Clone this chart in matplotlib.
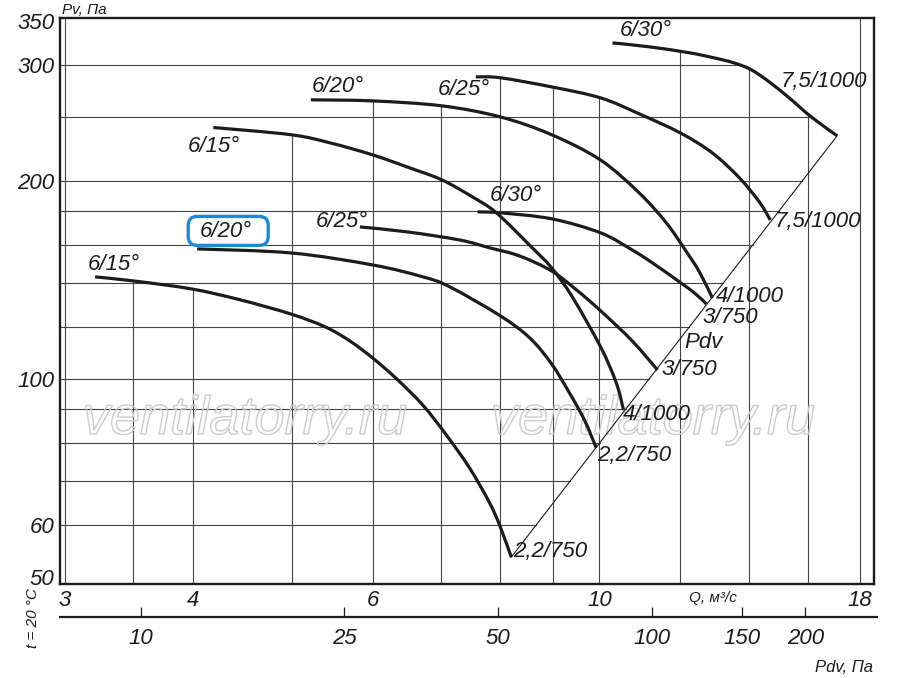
import numpy as np
import matplotlib
matplotlib.use("Agg")
import matplotlib.pyplot as plt
import matplotlib.patheffects as pe
from matplotlib.patches import FancyBboxPatch, PathPatch
from matplotlib.path import Path
from matplotlib.transforms import IdentityTransform
from matplotlib.ticker import FixedLocator, NullLocator

plt.rcParams['font.family'] = ['Liberation Sans', 'DejaVu Sans']
plt.rcParams['font.style'] = 'italic'

# fan curves: Q in m3/s, Pv in Pa
# lower family (2,2/750 ... 3/750)
q_15a = [3.21, 3.50, 3.99, 4.45, 4.99, 5.39, 5.70, 6.00, 6.33, 6.72, 7.10, 7.47, 7.81, 8.00, 8.20]
pv_15a = [142.9, 140.9, 137.0, 131.9, 125.5, 120.0, 114.2, 107.6, 100.1, 91.2, 81.8, 73.1, 64.8, 59.6, 53.6]

q_20a = [4.04, 4.99, 6.00, 6.72, 7.14, 8.00, 8.55, 8.98, 9.35, 9.67, 9.93]
pv_20a = [157.6, 155.4, 149.0, 142.9, 138.0, 124.7, 115.4, 105.4, 95.2, 86.6, 78.6]

q_25a = [5.83, 6.48, 7.30, 7.81, 8.35, 8.98, 9.50, 10.03, 10.77, 11.40]
pv_25a = [170.2, 167.3, 162.6, 158.2, 153.8, 145.9, 136.5, 126.9, 114.2, 103.2]

q_30a = [7.60, 8.00, 8.98, 10.03, 10.77, 11.27, 11.98, 12.39, 12.73]
pv_30a = [179.4, 178.8, 175.1, 166.7, 157.0, 150.1, 140.4, 135.1, 130.0]

# upper family (4/1000 ... 7,5/1000)
q_15b = [4.19, 4.99, 5.45, 6.00, 6.48, 7.01, 7.51, 7.93, 8.58, 8.98, 9.41, 10.03, 10.39, 10.56]
pv_15b = [241, 235, 228.4, 219, 210, 200.7, 189.1, 178.8, 158.7, 147.5, 133.2, 111.8, 98.6, 89.7]

q_20b = [5.22, 6.00, 7.01, 8.00, 8.98, 10.03, 10.94, 11.63, 12.17, 12.53, 12.90]
pv_20b = [265.5, 264.5, 260.0, 250.1, 235, 215, 191.7, 172.6, 156.0, 145.4, 132.8]

q_25b = [7.57, 8.00, 8.98, 10.03, 10.94, 12.00, 12.90, 13.71, 14.34, 14.70]
pv_25b = [287.7, 286.8, 277.8, 267.3, 252.8, 236.5, 220.5, 202.1, 185.8, 174.4]

q_30b = [10.30, 11.19, 12.25, 12.96, 13.55, 14.08, 14.66, 15.34, 16.12, 17.09]
pv_30b = [324, 319.6, 313, 307.4, 302.1, 295, 282.8, 267.3, 250.1, 234.1]

blade_labels = ['6/15°', '6/20°', '6/25°', '6/30°', '6/15°', '6/20°', '6/25°', '6/30°']
motor_labels = ['2,2/750', '2,2/750', '3/750', '3/750', '4/1000', '4/1000', '7,5/1000', '7,5/1000']

q_ticks = [3, 4, 6, 10, 18]
pv_ticks = [50, 60, 100, 200, 300, 350]
pdv_ticks = [10, 25, 50, 100, 150, 200]
q_grid = [3.5, 4, 5, 6, 7, 8, 9, 10, 12, 14, 16]
pv_grid = [60, 70, 80, 90, 100, 120, 140, 160, 180, 200, 250, 300]
PDV_K = 0.79  # Pdv = k * Q^2

Q_LIM = (2.966, 18.57)
PV_LIM = (48.8, 353.5)

curves = [(q_15a, pv_15a), (q_20a, pv_20a), (q_25a, pv_25a), (q_30a, pv_30a),
          (q_15b, pv_15b), (q_20b, pv_20b), (q_25b, pv_25b), (q_30b, pv_30b)]

# label placement (pixel offsets from curve start / end)
start_pos = [(-7, 12, 'left'), (3, 17, 'left'), (8, 5, 'right'), (12, 16, 'left'),
             (-26, -19, 'left'), (1, 13, 'left'), (14, -13, 'right'), (7, 12, 'left')]
end_pos = [(2, 6), (1, -8), (4, 0), (-4, -14), (-1, -5), (4, 1), (4, -2), (-56, 54)]

INK = '#1c1c1c'
GRID = '#444444'


def smooth_path(q, pv):
    """Bezier path through the read points (Catmull-Rom in log-log space)."""
    pts = np.column_stack([np.log10(q), np.log10(pv)])
    n = len(pts)
    verts = [pts[0]]
    codes = [Path.MOVETO]
    for i in range(n - 1):
        p0 = pts[max(i - 1, 0)]
        p1 = pts[i]
        p2 = pts[i + 1]
        p3 = pts[min(i + 2, n - 1)]
        verts += [p1 + (p2 - p0) / 6, p2 - (p3 - p1) / 6, p2]
        codes += [Path.CURVE4] * 3
    return Path(10 ** np.array(verts), codes)


fig = plt.figure(figsize=(9, 6.78), dpi=100)
ax = fig.add_axes([60 / 900, 1 - 584 / 678, 814 / 900, 566 / 678])
ax.set_xscale('log')
ax.set_yscale('log')
ax.set_xlim(*Q_LIM)
ax.set_ylim(*PV_LIM)

# diagonal Pv = Pdv line through the curve end points
diag_q = [q_15a[-1], q_30b[-1]]
diag_pv = [pv_15a[-1], pv_30b[-1]]


def envelope_top(q):
    tops = []
    for cq, cp in curves:
        if cq[0] <= q <= cq[-1]:
            tops.append(10 ** np.interp(np.log10(q), np.log10(cq), np.log10(cp)))
    return max(tops) if tops else PV_LIM[1]


def grid_right(pv):
    if pv <= diag_pv[1]:
        return 10 ** np.interp(np.log10(pv), np.log10(diag_pv), np.log10(diag_q))
    return 10 ** np.interp(np.log10(pv), np.log10(pv_30b[::-1]), np.log10(q_30b[::-1]))


# grid, clipped to the working area
for q in q_grid:
    ax.plot([q, q], [PV_LIM[0], envelope_top(q)], color=GRID, lw=0.8, zorder=1)
for q in (q_ticks[0], q_ticks[-1]):
    ax.plot([q, q], PV_LIM, color=GRID, lw=0.8, zorder=1)
for pv in pv_grid:
    ax.plot([Q_LIM[0], grid_right(pv)], [pv, pv], color=GRID, lw=0.8, zorder=1)

ax.plot(diag_q, diag_pv, color=INK, lw=0.8, zorder=2)

# watermark
for xf in (0.227, 0.7285):
    ax.text(xf, 0.265, 'ventilatorry.ru', transform=ax.transAxes, fontsize=39,
            ha='center', va='baseline', color=(1, 1, 1, 0), zorder=1.5,
            path_effects=[pe.withStroke(linewidth=1.0, foreground='#cccccc')])

boxed = None
for i, (cq, cp) in enumerate(curves):
    ax.add_patch(PathPatch(smooth_path(cq, cp), fill=False, ec=INK, lw=2.3,
                           capstyle='butt', zorder=3))
    dx, dy, ha = start_pos[i]
    t = ax.annotate(blade_labels[i], xy=(cq[0], cp[0]), xytext=(dx, dy),
                    textcoords='offset pixels', ha=ha, va='center',
                    fontsize=16, color=INK, zorder=4)
    if i == 1:
        boxed = t
    ex, ey = end_pos[i]
    ax.annotate(motor_labels[i], xy=(cq[-1], cp[-1]), xytext=(ex, ey),
                textcoords='offset pixels', ha='left', va='center',
                fontsize=16, color=INK, zorder=4)

ax.text(12.11, 113.4, 'Pdv', ha='left', va='center', fontsize=16, color=INK)

# axes styling
for s in ax.spines.values():
    s.set_linewidth(1.7)
    s.set_color(INK)
ax.xaxis.set_major_locator(FixedLocator(q_ticks))
ax.xaxis.set_minor_locator(NullLocator())
ax.yaxis.set_major_locator(FixedLocator(pv_ticks))
ax.yaxis.set_minor_locator(NullLocator())
ax.set_xticklabels([str(v) for v in q_ticks])
ax.set_yticklabels([str(v) for v in pv_ticks])
ax.tick_params(axis='both', length=0, labelsize=16, colors=INK)
ax.tick_params(axis='x', pad=4)
ax.tick_params(axis='y', pad=4)

ax.text(0.0025, 1.014, 'Pv, Па', transform=ax.transAxes, ha='left', va='center',
        fontsize=11, color=INK)
ax.text(0.7727, -0.0247, 'Q, м³/с', transform=ax.transAxes, ha='left', va='center',
        fontsize=11, color=INK)

# second scale: dynamic pressure
axp = fig.add_axes([60 / 900, 1 - 617 / 678, 817 / 900, 1e-4])
axp.set_xscale('log')
axp.set_xlim(PDV_K * Q_LIM[0] ** 2, PDV_K * (Q_LIM[0] * (Q_LIM[1] / Q_LIM[0]) ** (817 / 814)) ** 2)
axp.patch.set_visible(False)
for side in ('left', 'right', 'top'):
    axp.spines[side].set_visible(False)
axp.spines['bottom'].set_linewidth(1.6)
axp.spines['bottom'].set_color(INK)
axp.set_yticks([])
axp.xaxis.set_major_locator(FixedLocator(pdv_ticks))
axp.xaxis.set_minor_locator(NullLocator())
axp.set_xticklabels([str(v) for v in pdv_ticks])
axp.tick_params(axis='x', direction='in', length=7, width=0.9, pad=8,
                labelsize=16, colors=INK)

fig.text(815 / 900, 1 - 667 / 678, 'Pdv, Па', ha='left', va='center', fontsize=12, color=INK)
fig.text(33 / 900, 1 - 618 / 678, 't = 20 °C', rotation=90, ha='center', va='center',
         fontsize=11, color=INK)

# blue frame around the highlighted label
fig.canvas.draw()
bb = boxed.get_window_extent()
cx = (bb.x0 + bb.x1) / 2 + 2
cy = (bb.y0 + bb.y1) / 2 + 1
box = FancyBboxPatch((cx - 40, cy - 14.5), 80, 29,
                     boxstyle='round,pad=0,rounding_size=9',
                     fc='none', ec='#1a8ad8', lw=2.4, transform=IdentityTransform())
fig.add_artist(box)

fig.savefig('out.png', dpi=100)
